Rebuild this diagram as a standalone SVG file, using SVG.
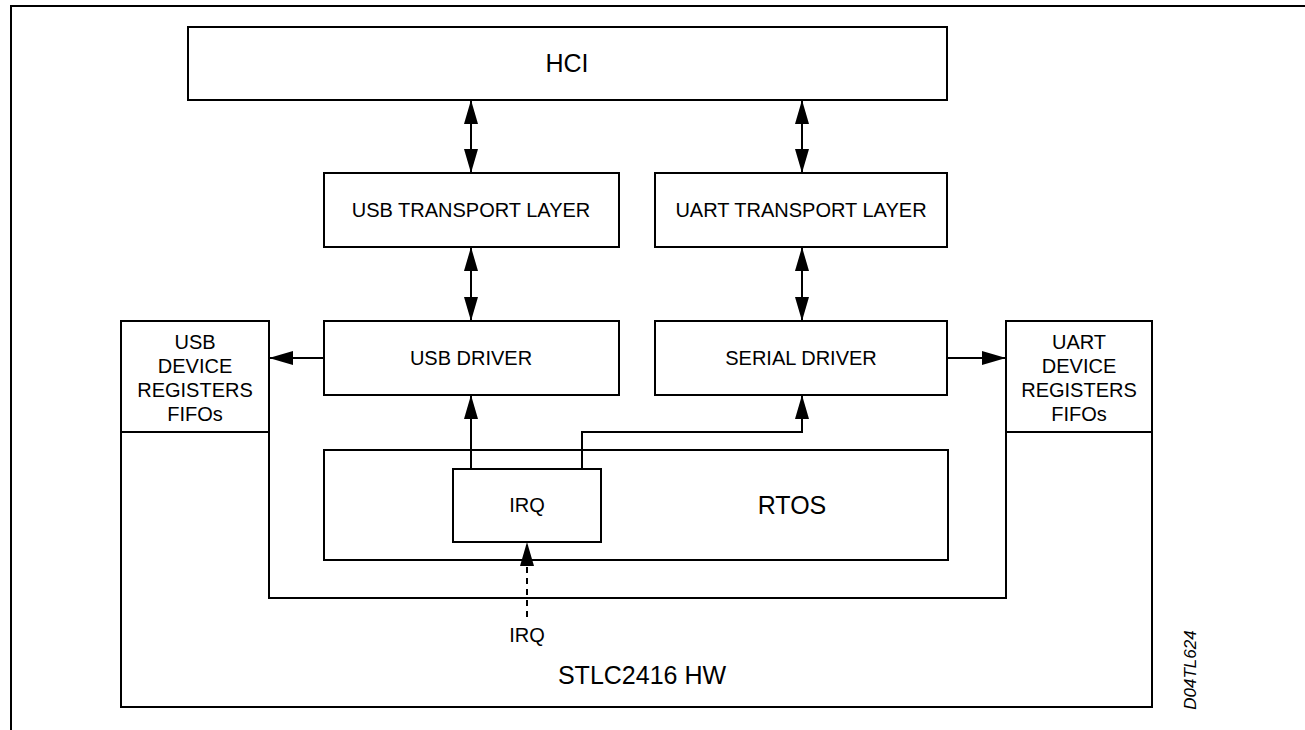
<svg xmlns="http://www.w3.org/2000/svg" width="1305" height="730" viewBox="0 0 1305 730">
<defs>
<style>
.box{fill:#fff;stroke:#000;stroke-width:2}
.ln{fill:none;stroke:#000;stroke-width:2}
.t{font-family:"Liberation Sans",Arial,sans-serif;font-size:20px;fill:#000;text-anchor:middle}
.big{font-size:25px}
</style>
<marker id="ah" viewBox="0 0 24 14" refX="23" refY="7" markerWidth="24" markerHeight="14" markerUnits="userSpaceOnUse" orient="auto-start-reverse">
<path d="M0,0 L24,7 L0,14 Z" fill="#000"/>
</marker>
</defs>
<g id="frame">
<path class="ln" d="M11,730 V6 H1305"/>
</g>
<g id="hw">
<path class="ln" d="M121,321 H269 V598 H1006 V321 H1152 V707 H121 Z"/>
<text class="t big" x="642" y="684">STLC2416 HW</text>
</g>
<g id="usb-dev">
<line class="ln" x1="121" y1="432" x2="269" y2="432"/>
<text class="t" x="195" y="349">USB</text>
<text class="t" x="195" y="373">DEVICE</text>
<text class="t" x="195" y="397">REGISTERS</text>
<text class="t" x="195" y="421">FIFOs</text>
</g>
<g id="uart-dev">
<line class="ln" x1="1006" y1="432" x2="1152" y2="432"/>
<text class="t" x="1079" y="349">UART</text>
<text class="t" x="1079" y="373">DEVICE</text>
<text class="t" x="1079" y="397">REGISTERS</text>
<text class="t" x="1079" y="421">FIFOs</text>
</g>
<g id="hci">
<rect class="box" x="188" y="27" width="759" height="73"/>
<text class="t big" x="567" y="72">HCI</text>
</g>
<g id="usb-tl">
<rect class="box" x="324" y="173" width="295" height="74"/>
<text class="t" x="471" y="217">USB TRANSPORT LAYER</text>
</g>
<g id="uart-tl">
<rect class="box" x="655" y="173" width="292" height="74"/>
<text class="t" x="801" y="217">UART TRANSPORT LAYER</text>
</g>
<g id="usb-drv">
<rect class="box" x="324" y="321" width="295" height="74"/>
<text class="t" x="471" y="365">USB DRIVER</text>
</g>
<g id="serial-drv">
<rect class="box" x="655" y="321" width="292" height="74"/>
<text class="t" x="801" y="365">SERIAL DRIVER</text>
</g>
<g id="rtos">
<rect class="box" x="324" y="450" width="624" height="110"/>
<text class="t big" x="792" y="514">RTOS</text>
</g>
<g id="irq">
<rect class="box" x="453" y="469" width="148" height="73"/>
<text class="t" x="527" y="512">IRQ</text>
</g>
<g id="connectors">
<line class="ln" x1="471" y1="101" x2="471" y2="172" marker-start="url(#ah)" marker-end="url(#ah)"/>
<line class="ln" x1="802" y1="101" x2="802" y2="172" marker-start="url(#ah)" marker-end="url(#ah)"/>
<line class="ln" x1="471" y1="248" x2="471" y2="320" marker-start="url(#ah)" marker-end="url(#ah)"/>
<line class="ln" x1="802" y1="248" x2="802" y2="320" marker-start="url(#ah)" marker-end="url(#ah)"/>
<line class="ln" x1="323" y1="358" x2="270" y2="358" marker-end="url(#ah)"/>
<line class="ln" x1="948" y1="358" x2="1005" y2="358" marker-end="url(#ah)"/>
<line class="ln" x1="471" y1="468" x2="471" y2="396" marker-end="url(#ah)"/>
<path class="ln" d="M582,468 V432 H802 V396" marker-end="url(#ah)"/>
<line class="ln" x1="527" y1="617" x2="527" y2="543" stroke-dasharray="6,5" marker-end="url(#ah)"/>
<text class="t" x="527" y="642">IRQ</text>
</g>
<text x="1196" y="670" transform="rotate(-90 1196 670)" style="font-family:'Liberation Sans',Arial,sans-serif;font-size:17px;font-style:italic;text-anchor:middle">D04TL624</text>
</svg>
